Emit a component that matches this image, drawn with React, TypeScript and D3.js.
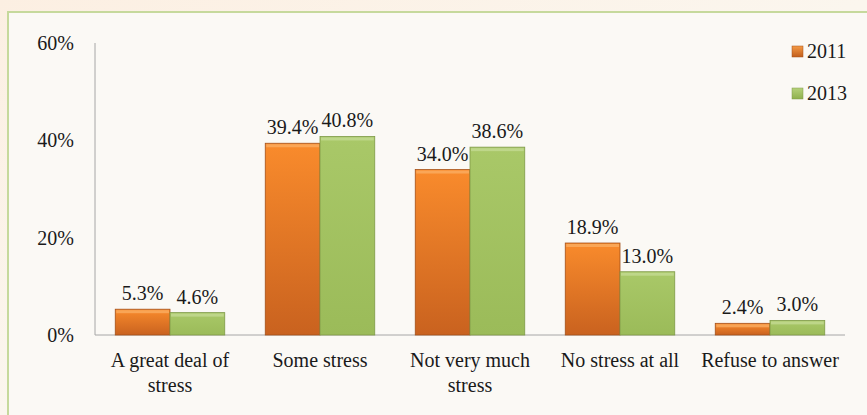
import React from "react";
import * as d3 from "d3";

const categories = [
  ["A great deal of", "stress"],
  ["Some stress"],
  ["Not very much", "stress"],
  ["No stress at all"],
  ["Refuse to answer"],
];
const series = ["2011", "2013"];
const values2011 = [5.3, 39.4, 34.0, 18.9, 2.4];
const values2013 = [4.6, 40.8, 38.6, 13.0, 3.0];
const yTicks = [0, 20, 40, 60];

const W = 867;
const H = 415;
const left = 95;
const right = 845;
const top = 43;
const bottom = 335;
const FONT = "Liberation Serif, Tinos, Times New Roman, DejaVu Serif, serif";

export default function App() {
  const x = d3
    .scaleBand<number>()
    .domain(d3.range(categories.length))
    .range([left, right])
    .paddingInner(0.27)
    .paddingOuter(0.135);
  const x1 = d3.scaleBand<number>().domain([0, 1]).range([0, x.bandwidth()]);
  const y = d3.scaleLinear().domain([0, 60]).range([bottom, top]);
  const data = [values2011, values2013];
  const grads = ["gOr", "gGr"];
  const legendColors = ["url(#lOr)", "url(#lGr)"];
  const ts = { fontFamily: FONT };

  return (
    <svg
      width={W}
      height={H}
      style={{ position: "fixed", left: 0, top: 0, fontFamily: FONT }}
    >
      <defs>
        <linearGradient id="bg" x1="0" y1="0" x2="1" y2="1">
          <stop offset="0" stopColor="#fcefe2" />
          <stop offset="0.5" stopColor="#fbf6ee" />
          <stop offset="1" stopColor="#fbf9f5" />
        </linearGradient>
        <linearGradient id="gOr" x1="0" y1="0" x2="0" y2="1">
          <stop offset="0" stopColor="#f98b2c" />
          <stop offset="1" stopColor="#c9621f" />
        </linearGradient>
        <linearGradient id="gGr" x1="0" y1="0" x2="0" y2="1">
          <stop offset="0" stopColor="#a9c868" />
          <stop offset="1" stopColor="#9bbb59" />
        </linearGradient>
        <linearGradient id="lOr" x1="0" y1="0" x2="0" y2="1">
          <stop offset="0" stopColor="#f59a45" />
          <stop offset="1" stopColor="#c25e1c" />
        </linearGradient>
        <linearGradient id="lGr" x1="0" y1="0" x2="0" y2="1">
          <stop offset="0" stopColor="#b5d17a" />
          <stop offset="1" stopColor="#8fb04c" />
        </linearGradient>
      </defs>
      <rect x={0} y={0} width={W} height={H} fill="url(#bg)" />
      <rect
        x={8}
        y={12}
        width={W + 10}
        height={H + 10}
        fill="#fbf9f5"
        stroke="#c6d99c"
        strokeWidth={2}
      />
      <line x1={left} x2={left} y1={top} y2={bottom} stroke="#a6a6a6" strokeWidth={1} />
      <line x1={left} x2={right} y1={bottom} y2={bottom} stroke="#a6a6a6" strokeWidth={1} />
      {yTicks.map((t) => (
        <text
          key={t}
          x={74}
          y={y(t) + 7}
          textAnchor="end"
          fontSize={20}
          fill="#1a1a1a"
          style={ts}
        >
          {t}%
        </text>
      ))}
      {categories.map((cat, i) => (
        <g key={i} transform={`translate(${x(i)},0)`}>
          {data.map((vals, s) => {
            const bx = x1(s)!;
            const bw = x1.bandwidth();
            const by = y(vals[i]);
            const bh = bottom - by;
            const edge = s === 0 ? "#a4501a" : "#7f9a48";
            const hi = s === 0 ? "#fbb26a" : "#c7dd98";
            return (
              <g key={s}>
                <rect x={bx} y={by} width={bw} height={bh} fill={`url(#${grads[s]})`} stroke={edge} strokeWidth={0.8} />
                <rect x={bx + 1} y={by + 1} width={bw - 2} height={Math.min(3, bh - 2)} fill={hi} opacity={0.7} />
                <text
                  x={bx + bw / 2}
                  y={by - 9}
                  textAnchor="middle"
                  fontSize={20}
                  fill="#1a1a1a"
                  style={ts}
                >
                  {vals[i].toFixed(1)}%
                </text>
              </g>
            );
          })}
          {cat.map((line, k) => (
            <text
              key={k}
              x={x.bandwidth() / 2}
              y={bottom + 32 + k * 25}
              textAnchor="middle"
              fontSize={20}
              fill="#1a1a1a"
              style={ts}
            >
              {line}
            </text>
          ))}
        </g>
      ))}
      {series.map((s, k) => (
        <g key={s} transform={`translate(792,${46 + k * 42})`}>
          <rect x={0} y={0} width={11} height={11} fill={legendColors[k]} stroke={k === 0 ? "#a4501a" : "#7f9a48"} strokeWidth={0.5} />
          <text x={15} y={12} fontSize={20} fill="#1a1a1a" style={ts}>
            {s}
          </text>
        </g>
      ))}
    </svg>
  );
}
